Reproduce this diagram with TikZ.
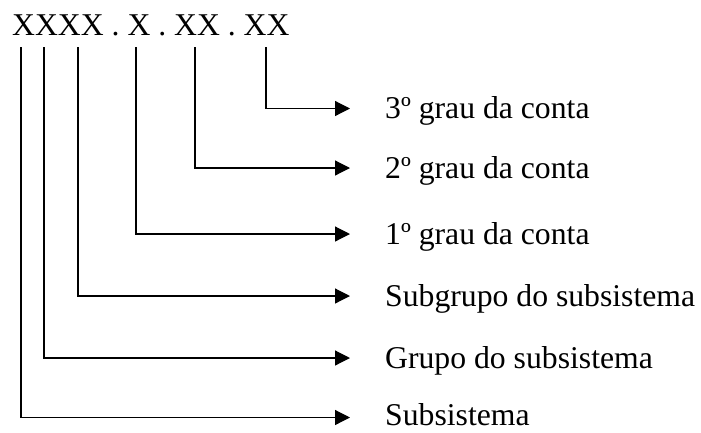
\documentclass[tikz,border=0pt]{standalone}
\usepackage{fontspec}
\setmainfont{Liberation Serif}
\usetikzlibrary{arrows.meta}
\tikzset{
  lbl/.style={anchor=base west, inner sep=0pt, font=\fontsize{31.7pt}{36pt}\selectfont},
  code/.style={anchor=base west, inner sep=0pt, font=\fontsize{31.7pt}{36pt}\selectfont},
  leader/.style={line width=1.2pt, -{Triangle[length=15pt,width=15pt]}},
}
\begin{document}
\begin{tikzpicture}[x=1pt,y=-1pt]
  \useasboundingbox (0,0) rectangle (701,432);
  % account code mask
  \node[code] (mask) at (12,35) {XXXX . X . XX . XX};
  % digit groups: start of each leader line
  \coordinate (d1) at (21,47);
  \coordinate (d2) at (44,47);
  \coordinate (d3) at (78,47);
  \coordinate (d4) at (136,47);
  \coordinate (d5) at (195,47);
  \coordinate (d6) at (266,47);
  % descriptions
  \node[lbl] (t6) at (385,118.5) {3º grau da conta};
  \node[lbl] (t5) at (385,178) {2º grau da conta};
  \node[lbl] (t4) at (385,244) {1º grau da conta};
  \node[lbl] (t3) at (385,306) {Subgrupo do subsistema};
  \node[lbl] (t2) at (385,368) {Grupo do subsistema};
  \node[lbl] (t1) at (385,425) {Subsistema};
  % arrow tips
  \coordinate (e6) at (350,108.5);
  \coordinate (e5) at (350,168);
  \coordinate (e4) at (350,234);
  \coordinate (e3) at (350,296);
  \coordinate (e2) at (350,358);
  \coordinate (e1) at (350,417.5);
  \foreach \i in {1,...,6}
    \draw[leader] (d\i) |- (e\i);
\end{tikzpicture}
\end{document}
